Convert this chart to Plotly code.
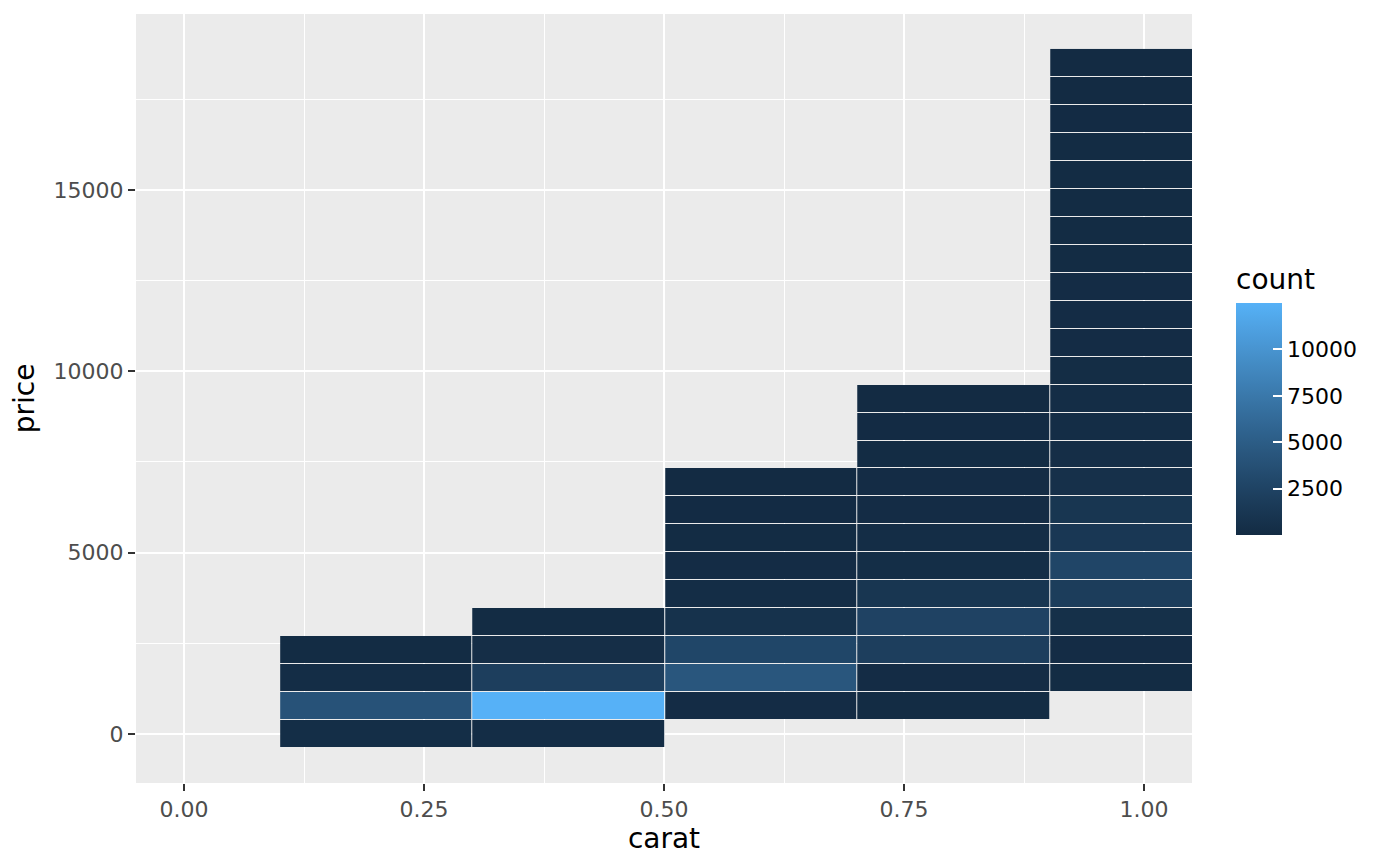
import plotly.graph_objects as go

# carat bins (bin width ~0.2004) and price bins (bin width ~770.7, centred on multiples)
carat_edges = [0.1002, 0.3006, 0.5010, 0.7014, 0.9018, 1.1022]
price_binwidth = 770.7
n_price_bins = 25

# counts per carat column, listed bottom-up from first occupied price bin
first_bin = [0, 0, 1, 1, 2]
counts = [
    [300, 4000, 250, 60],
    [200, 12500, 2000, 350, 100],
    [150, 4400, 2800, 700, 250, 120, 80, 50, 20],
    [100, 150, 2000, 2400, 1100, 300, 200, 150, 120, 80, 50, 20],
    [80, 150, 500, 1900, 2700, 1300, 1100, 550, 350, 250, 200, 180,
     150, 130, 120, 100, 90, 80, 70, 60, 50, 40, 30],
]
count_min = 1  # smallest bin count (bins beyond the visible carat range)

price_edges = [(k - 0.5) * price_binwidth for k in range(n_price_bins + 1)]

z = [[None] * len(counts) for _ in range(n_price_bins)]
for j, col in enumerate(counts):
    for i, c in enumerate(col):
        z[first_bin[j] + i][j] = c


# ggplot2 default gradient #132B43 -> #56B1F7, interpolated in CIELAB
def hex_to_lab(h):
    rgb = [int(h[i:i + 2], 16) / 255 for i in (1, 3, 5)]
    lin = [c / 12.92 if c <= 0.04045 else ((c + 0.055) / 1.055) ** 2.4 for c in rgb]
    r, g, b = lin
    x = (0.4124 * r + 0.3576 * g + 0.1805 * b) / 0.95047
    y = 0.2126 * r + 0.7152 * g + 0.0722 * b
    zz = (0.0193 * r + 0.1192 * g + 0.9505 * b) / 1.08883
    f = lambda t: t ** (1 / 3) if t > 0.008856 else 7.787 * t + 16 / 116
    fx, fy, fz = f(x), f(y), f(zz)
    return 116 * fy - 16, 500 * (fx - fy), 200 * (fy - fz)


def lab_to_hex(L, a, b):
    fy = (L + 16) / 116
    fx = fy + a / 500
    fz = fy - b / 200
    finv = lambda t: t ** 3 if t ** 3 > 0.008856 else (t - 16 / 116) / 7.787
    x, y, zz = finv(fx) * 0.95047, finv(fy), finv(fz) * 1.08883
    r = 3.2406 * x - 1.5372 * y - 0.4986 * zz
    g = -0.9689 * x + 1.8758 * y + 0.0415 * zz
    bl = 0.0557 * x - 0.2040 * y + 1.0570 * zz
    out = []
    for c in (r, g, bl):
        c = 12.92 * c if c <= 0.0031308 else 1.055 * c ** (1 / 2.4) - 0.055
        out.append(max(0, min(255, round(c * 255))))
    return "#%02x%02x%02x" % tuple(out)


lo, hi = hex_to_lab("#132B43"), hex_to_lab("#56B1F7")
colorscale = []
for i in range(21):
    t = i / 20
    colorscale.append([t, lab_to_hex(*[lo[k] + (hi[k] - lo[k]) * t for k in range(3)])])

max_count = max(max(c) for c in counts)

fig = go.Figure(go.Heatmap(
    x=carat_edges,
    y=price_edges,
    z=z,
    zmin=count_min,
    zmax=max_count,
    colorscale=colorscale,
    xgap=1,
    ygap=1,
    hoverongaps=False,
    colorbar=dict(
        title=dict(text="count", side="top", font=dict(size=28, color="black")),
        thickness=46,
        thicknessmode="pixels",
        len=270,
        lenmode="pixels",
        x=1.0417,
        xanchor="left",
        xpad=0,
        y=0.3225,
        yanchor="bottom",
        ypad=0,
        outlinewidth=0,
        tickvals=[2500, 5000, 7500, 10000],
        tickformat="d",
        tickprefix="\u00a0\u00a0\u00a0",
        ticks="inside",
        ticklen=9,
        tickwidth=1.5,
        tickcolor="white",
        tickfont=dict(size=22, color="black"),
    ),
))

y_lo, y_hi = price_edges[0], price_edges[-1]
pad = (y_hi - y_lo) * 0.05

grid = dict(
    showgrid=True, gridcolor="white", gridwidth=2.2,
    zeroline=False, showline=False,
    ticks="outside", ticklen=7, tickwidth=2, tickcolor="#333333",
    tickfont=dict(size=22, color="#4D4D4D"),
)

fig.update_xaxes(
    range=[-0.05, 1.05],
    tickvals=[0, 0.25, 0.5, 0.75, 1.0],
    ticktext=["0.00", "0.25", "0.50", "0.75", "1.00"],
    minor=dict(dtick=0.125, tick0=0, showgrid=True, gridcolor="white", gridwidth=1.1, ticks=""),
    title=dict(text="carat", font=dict(size=28, color="black"), standoff=4),
    **grid,
)
fig.update_yaxes(
    range=[y_lo - pad, y_hi + pad],
    tickvals=[0, 5000, 10000, 15000],
    tickformat="d",
    minor=dict(dtick=2500, tick0=0, showgrid=True, gridcolor="white", gridwidth=1.1, ticks=""),
    title=dict(text="price", font=dict(size=28, color="black"), standoff=10),
    **grid,
)

fig.update_layout(
    width=1400,
    height=866,
    margin=dict(l=128, r=216, t=6, b=91),
    plot_bgcolor="#EBEBEB",
    paper_bgcolor="white",
    font=dict(family="DejaVu Sans"),
)

fig.write_html("out.html")
